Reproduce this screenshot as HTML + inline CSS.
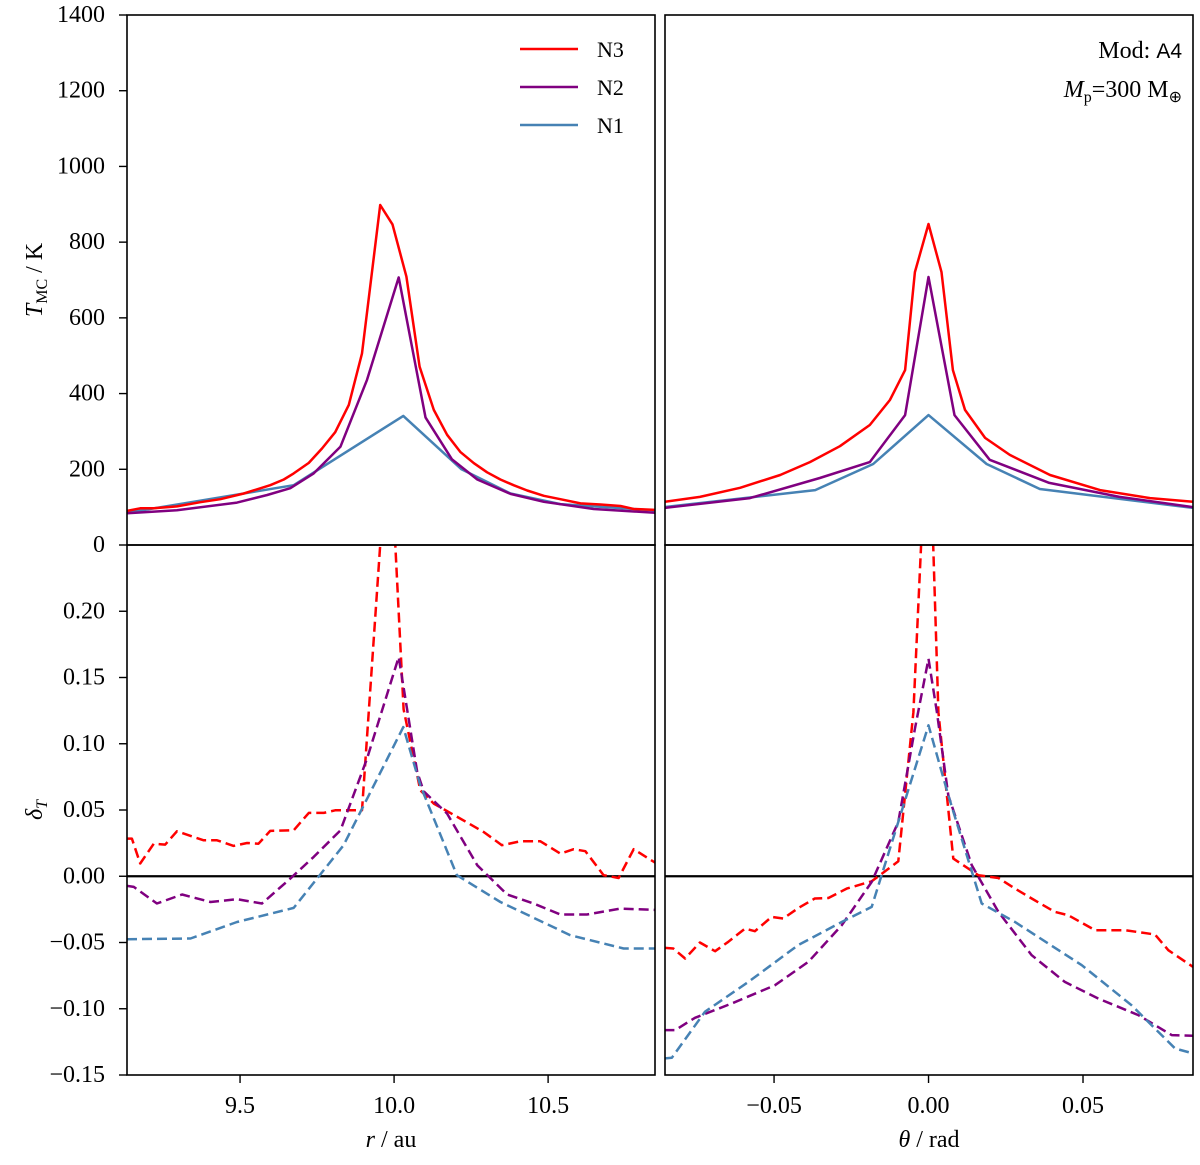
<!DOCTYPE html>
<html><head><meta charset="utf-8">
<style>
html,body{margin:0;padding:0;background:#fff;}
svg text{font-family:"Liberation Serif",serif;}
</style></head>
<body>
<svg id="fig" width="1200" height="1160" xmlns="http://www.w3.org/2000/svg"></svg>
<script>
// ---------- data (top-left: T vs r) ----------
const tlN3r = [9.133,9.176,9.22,9.295,9.371,9.436,9.512,9.598,9.642,9.674,9.723,9.766,9.809,9.853,9.896,9.955,9.995,10.04,10.083,10.129,10.172,10.215,10.259,10.302,10.345,10.388,10.432,10.486,10.540,10.605,10.670,10.735,10.778,10.87];
const tlN3T = [90,97,97,102,113,121,136,158,173,189,217,255,298,370,506,898,847,709,471,357,291,246,216,192,173,158,144,130,121,110,107,103,95,92];
const tlN2r = [9.133,9.295,9.49,9.588,9.663,9.739,9.826,9.912,10.015,10.102,10.188,10.27,10.378,10.486,10.648,10.87];
const tlN2T = [84,92,112,132,150,189,260,436,707,337,226,173,135,114,95,84];
const tlN1r = [9.133,9.674,10.03,10.219,10.378,10.54,10.87];
const tlN1T = [85,158,341,200,136,108,90];
// ---------- top-right: T vs theta ----------
const trN3th = [-0.0855,-0.074,-0.061,-0.048,-0.0384,-0.0287,-0.019,-0.0125,-0.0076,-0.0044,0,0.0042,0.0079,0.0118,0.0183,0.0263,0.0393,0.0555,0.0717,0.0856];
const trN3T = [114,127,151,185,219,261,317,383,462,721,848,721,462,357,283,238,185,145,124,114];
const trN2th = [-0.0855,-0.0578,-0.0352,-0.019,-0.0076,0,0.0084,0.0198,0.0391,0.0618,0.0856];
const trN2T = [98,124,177,219,343,708,343,225,164,127,100];
const trN1th = [-0.0855,-0.0367,-0.0179,0,0.0188,0.036,0.0856];
const trN1T = [100,145,214,343,214,148,98];
// ---------- bottom-left: deltaT vs r ----------
const blN3r = [9.133,9.149,9.176,9.22,9.257,9.295,9.382,9.425,9.479,9.523,9.56,9.598,9.674,9.723,9.772,9.809,9.896,9.955,9.98,10.004,10.031,10.085,10.129,10.215,10.291,10.35,10.41,10.475,10.54,10.583,10.621,10.68,10.729,10.778,10.87];
const blN3d = [0.0284,0.0284,0.0096,0.0246,0.0239,0.0339,0.0271,0.0271,0.0229,0.0251,0.0246,0.0342,0.0347,0.0478,0.0478,0.0498,0.0498,0.25,0.35,0.25,0.126,0.0649,0.0548,0.0435,0.0334,0.0234,0.0264,0.0264,0.0171,0.0204,0.0189,0.0008,-0.0013,0.0204,0.007];
const blN2r = [9.133,9.155,9.23,9.312,9.404,9.49,9.571,9.663,9.739,9.826,9.912,10.015,10.075,10.096,10.172,10.27,10.367,10.453,10.54,10.626,10.735,10.87];
const blN2d = [-0.0073,-0.008,-0.0206,-0.0138,-0.0194,-0.0173,-0.0206,-0.0018,0.0146,0.0347,0.0887,0.1654,0.0787,0.0641,0.0473,0.0083,-0.0138,-0.0206,-0.0289,-0.0289,-0.0244,-0.0256];
const blN1r = [9.133,9.339,9.49,9.674,9.836,10.03,10.085,10.204,10.345,10.572,10.745,10.87];
const blN1d = [-0.0475,-0.047,-0.0345,-0.0239,0.0234,0.1126,0.0686,0.0008,-0.0194,-0.0445,-0.0545,-0.0545];
// ---------- bottom-right: deltaT vs theta ----------
const brN3th = [-0.0855,-0.0826,-0.0788,-0.074,-0.0691,-0.0648,-0.0594,-0.0562,-0.0508,-0.047,-0.0421,-0.0368,-0.0324,-0.0265,-0.0184,-0.0098,-0.0049,-0.0024,0,0.0015,0.0032,0.008,0.0161,0.0226,0.028,0.0334,0.0409,0.0452,0.0539,0.0636,0.0733,0.0776,0.0856];
const brN3d = [-0.054,-0.0545,-0.0621,-0.05,-0.0566,-0.0495,-0.0395,-0.0415,-0.0307,-0.0319,-0.0239,-0.0168,-0.0164,-0.0093,-0.0038,0.0113,0.1239,0.25,0.35,0.25,0.1239,0.0133,0.0008,-0.0013,-0.0093,-0.0168,-0.0269,-0.0294,-0.0407,-0.0407,-0.044,-0.0558,-0.0684];
const brN2th = [-0.0855,-0.082,-0.0756,-0.0637,-0.0497,-0.0389,-0.0281,-0.0184,-0.0098,-0.0044,0,0.0027,0.0064,0.014,0.0226,0.0334,0.0441,0.0549,0.0679,0.0787,0.0856];
const brN2d = [-0.1161,-0.1161,-0.1068,-0.096,-0.0822,-0.0646,-0.037,-0.0043,0.041,0.1113,0.1641,0.1239,0.0611,0.0083,-0.0269,-0.0596,-0.0797,-0.0923,-0.1048,-0.1199,-0.1204];
const brN1th = [-0.0855,-0.0831,-0.0724,-0.0583,-0.0422,-0.0281,-0.0184,-0.0098,0,0.0064,0.0172,0.028,0.0496,0.0657,0.0798,0.0856];
const brN1d = [-0.1375,-0.137,-0.1023,-0.0797,-0.052,-0.0345,-0.0231,0.041,0.1139,0.0611,-0.0206,-0.0345,-0.0671,-0.0973,-0.13,-0.1337];
// ---------- ticks ----------
const topYTicks = [0,200,400,600,800,1000,1200,1400];
const botYTicks = [-0.15,-0.10,-0.05,0.00,0.05,0.10,0.15,0.20];
const botYLabels = ["\u22120.15","\u22120.10","\u22120.05","0.00","0.05","0.10","0.15","0.20"];
const rTicks = [9.5,10.0,10.5];
const rLabels = ["9.5","10.0","10.5"];
const thTicks = [-0.05,0,0.05];
const thLabels = ["\u22120.05","0.00","0.05"];

const NS="http://www.w3.org/2000/svg";
const svg=document.getElementById('fig');
function el(tag,attrs,parent){const e=document.createElementNS(NS,tag);for(const k in attrs)e.setAttribute(k,attrs[k]);(parent||svg).appendChild(e);return e;}

const L={x0:127,x1:655}, R={x0:665,x1:1193}, T={y0:15,y1:545}, B={y0:545,y1:1075};
const rMin=9.133,rMax=10.847, thMin=-0.0853,thMax=0.0856;
const xr=v=>L.x0+(v-rMin)/(rMax-rMin)*(L.x1-L.x0);
const xt=v=>R.x0+(v-thMin)/(thMax-thMin)*(R.x1-R.x0);
const yT=v=>T.y1-(v/1400)*(T.y1-T.y0);
const yB=v=>B.y1-((v+0.15)/0.40)*(B.y1-B.y0);

const defs=el('defs',{});
function clip(id,x0,y0,x1,y1){const c=el('clipPath',{id:id},defs);el('rect',{x:x0,y:y0,width:x1-x0,height:y1-y0},c);}
clip('cTL',L.x0,T.y0,L.x1,T.y1);clip('cTR',R.x0,T.y0,R.x1,T.y1);
clip('cBL',L.x0,B.y0,L.x1,B.y1);clip('cBR',R.x0,B.y0,R.x1,B.y1);

const COL={N3:'#ff0000',N2:'#800080',N1:'#4682b4'};
function line(xs,ys,fx,fy,color,dashed,clipId,name){
  let d='';for(let i=0;i<xs.length;i++){d+=(i?'L':'M')+fx(xs[i]).toFixed(1)+','+fy(ys[i]).toFixed(1);}
  const p=el('path',{d:d,fill:'none',stroke:color,'stroke-width':2.5,'stroke-linejoin':'round','clip-path':'url(#'+clipId+')'});
  if(dashed)p.setAttribute('stroke-dasharray','10,5');
  
  
}
el('line',{x1:L.x0,x2:L.x1,y1:yB(0),y2:yB(0),stroke:'#000','stroke-width':2.2,});
el('line',{x1:R.x0,x2:R.x1,y1:yB(0),y2:yB(0),stroke:'#000','stroke-width':2.2,});

line(tlN1r,tlN1T,xr,yT,COL.N1,false,'cTL','n1-temp-r');
line(tlN2r,tlN2T,xr,yT,COL.N2,false,'cTL','n2-temp-r');
line(tlN3r,tlN3T,xr,yT,COL.N3,false,'cTL','n3-temp-r');
line(trN1th,trN1T,xt,yT,COL.N1,false,'cTR','n1-temp-theta');
line(trN2th,trN2T,xt,yT,COL.N2,false,'cTR','n2-temp-theta');
line(trN3th,trN3T,xt,yT,COL.N3,false,'cTR','n3-temp-theta');
line(blN3r,blN3d,xr,yB,COL.N3,true,'cBL','n3-delta-r');
line(blN2r,blN2d,xr,yB,COL.N2,true,'cBL','n2-delta-r');
line(blN1r,blN1d,xr,yB,COL.N1,true,'cBL','n1-delta-r');
line(brN3th,brN3d,xt,yB,COL.N3,true,'cBR','n3-delta-theta');
line(brN2th,brN2d,xt,yB,COL.N2,true,'cBR','n2-delta-theta');
line(brN1th,brN1d,xt,yB,COL.N1,true,'cBR','n1-delta-theta');

[[L,T,'panel-top-left'],[R,T,'panel-top-right'],[L,B,'panel-bottom-left'],[R,B,'panel-bottom-right']].forEach(([X,Y,n])=>{
  const r=el('rect',{x:X.x0,y:Y.y0,width:X.x1-X.x0,height:Y.y1-Y.y0,fill:'none',stroke:'#000','stroke-width':1.6});
  
  
});

function txt(x,y,s,anchor,size,name){const t=el('text',{x:x,y:y,'text-anchor':anchor,'font-size':size,'dominant-baseline':'central',fill:'#000'});t.textContent=s;
  
  
  return t;}
topYTicks.forEach(v=>{const y=yT(v);
  el('line',{x1:L.x0-8,x2:L.x0,y1:y,y2:y,stroke:'#000','stroke-width':1.4});
  txt(L.x0-22,y,String(v),'end',24,'y-tick-label-top');});
botYTicks.forEach((v,i)=>{const y=yB(v);
  el('line',{x1:L.x0-8,x2:L.x0,y1:y,y2:y,stroke:'#000','stroke-width':1.4});
  txt(L.x0-22,y,botYLabels[i],'end',24,'y-tick-label-bottom');});
rTicks.forEach((v,i)=>{const x=xr(v);
  el('line',{x1:x,x2:x,y1:B.y1,y2:B.y1+8,stroke:'#000','stroke-width':1.4});
  txt(x,B.y1+31,rLabels[i],'middle',24,'x-tick-label-r');});
thTicks.forEach((v,i)=>{const x=xt(v);
  el('line',{x1:x,x2:x,y1:B.y1,y2:B.y1+8,stroke:'#000','stroke-width':1.4});
  txt(x,B.y1+31,thLabels[i],'middle',24,'x-tick-label-theta');});
</script>
<svg style="position:absolute;left:0;top:0" width="1200" height="1160" xmlns="http://www.w3.org/2000/svg">
  <text x="391" y="1147" text-anchor="middle" font-size="24" font-family="Liberation Serif,serif"><tspan font-style="italic">r</tspan> / au</text>
  <text x="929" y="1147" text-anchor="middle" font-size="24" font-family="Liberation Serif,serif"><tspan font-style="italic">θ</tspan> / rad</text>
  <text transform="translate(42,280) rotate(-90)" text-anchor="middle" font-size="24" font-family="Liberation Serif,serif"><tspan font-style="italic">T</tspan><tspan font-size="16" dy="5">MC</tspan><tspan dy="-5"> / K</tspan></text>
  <text transform="translate(42,810) rotate(-90)" text-anchor="middle" font-size="24" font-family="Liberation Serif,serif"><tspan font-style="italic">δ</tspan><tspan font-size="16" font-style="italic" dy="5">T</tspan></text>
  <g font-family="Liberation Sans,sans-serif" font-size="22">
    <line x1="520" x2="578" y1="49" y2="49" stroke="#ff0000" stroke-width="2.5"/>
    <text x="597" y="57">N3</text>
    <line x1="520" x2="578" y1="87" y2="87" stroke="#800080" stroke-width="2.5"/>
    <text x="597" y="95">N2</text>
    <line x1="520" x2="578" y1="125" y2="125" stroke="#4682b4" stroke-width="2.5"/>
    <text x="597" y="133">N1</text>
  </g>
  <text x="1182" y="58" text-anchor="end" font-size="24" font-family="Liberation Serif,serif">Mod:  <tspan font-family="Liberation Sans,sans-serif" font-size="21">A4</tspan></text>
  <text x="1182" y="97" text-anchor="end" font-size="24" font-family="Liberation Serif,serif"><tspan font-style="italic">M</tspan><tspan font-size="16" dy="5">p</tspan><tspan dy="-5">=300 M</tspan><tspan font-size="16" dy="5">⊕</tspan></text>
</svg>
</body></html>
